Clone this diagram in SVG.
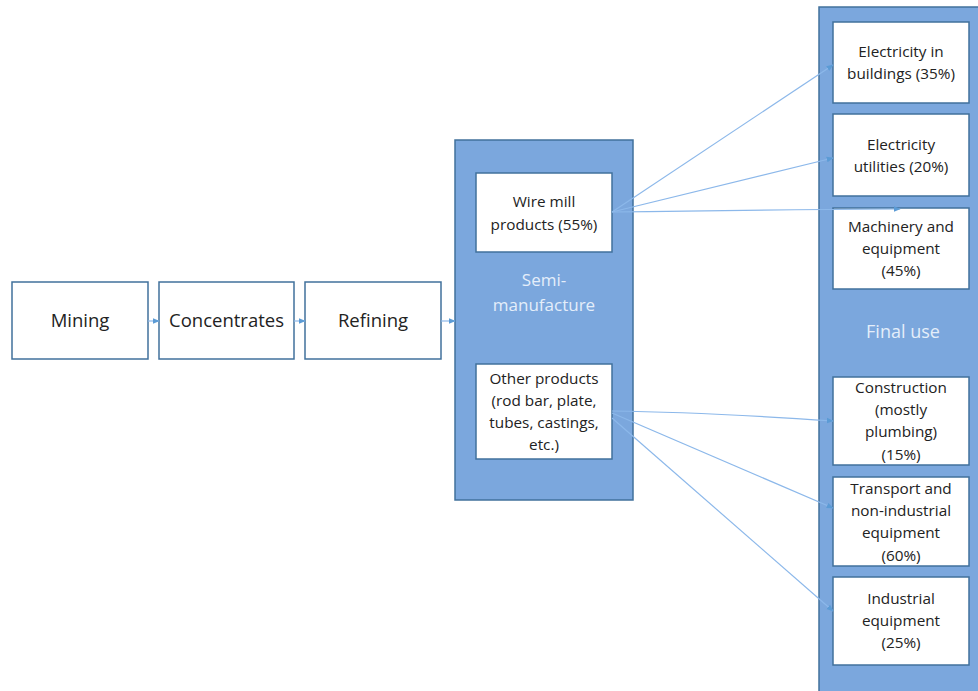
<svg xmlns="http://www.w3.org/2000/svg" width="978" height="691" viewBox="0 0 978 691">
<defs>
<marker id="ah" viewBox="0 0 10 10" refX="9" refY="5" markerWidth="7" markerHeight="7" orient="auto" markerUnits="userSpaceOnUse">
<path d="M0,1 L10,5 L0,9 z" fill="#5b9bd5"/>
</marker>
<style>
.box{fill:#fff;stroke:#41719c;stroke-width:1.5}
.grp{fill:#7ba7dd;stroke:#41719c;stroke-width:1.5}
.t{font-family:"Open Sans","Liberation Sans",sans-serif;fill:#222;text-anchor:middle}
.big{font-size:18.5px}
.sm{font-size:15.3px}
.w{font-family:"Open Sans","Liberation Sans",sans-serif;fill:#e4eefa;text-anchor:middle;font-size:17px}
.c{stroke:#8cb8ea;stroke-width:1.2;fill:none;marker-end:url(#ah)}
</style>
</defs>
<rect width="978" height="691" fill="#fff"/>
<g id="mining"><rect class="box" x="12" y="282" width="136" height="77"/><text class="t big" x="80" y="327">Mining</text></g>
<g id="concentrates"><rect class="box" x="159" y="282" width="135" height="77"/><text class="t big" x="226.5" y="327">Concentrates</text></g>
<g id="refining"><rect class="box" x="305" y="282" width="136" height="77"/><text class="t big" x="373" y="327">Refining</text></g>
<g id="semi"><rect class="grp" x="455" y="140" width="178" height="360"/><text class="w" x="544" y="286">Semi-</text><text class="w" x="544" y="311">manufacture</text></g>
<g id="wire"><rect class="box" x="476" y="173" width="136" height="79"/><text class="t sm" x="544" y="207">Wire mill</text><text class="t sm" x="544" y="230">products (55%)</text></g>
<g id="other"><rect class="box" x="476" y="364" width="136" height="95"/><text class="t sm" x="544" y="384">Other products</text><text class="t sm" x="544" y="406">(rod bar, plate,</text><text class="t sm" x="544" y="428">tubes, castings,</text><text class="t sm" x="544" y="450">etc.)</text></g>
<g id="final"><rect class="grp" x="819" y="7" width="160" height="690"/><text class="w" x="903" y="338" style="font-size:18px">Final use</text></g>
<g id="elecbuild"><rect class="box" x="833" y="22" width="136" height="81"/><text class="t sm" x="901" y="57">Electricity in</text><text class="t sm" x="901" y="79">buildings (35%)</text></g>
<g id="elecutil"><rect class="box" x="833" y="114" width="136" height="82"/><text class="t sm" x="901" y="150">Electricity</text><text class="t sm" x="901" y="172">utilities (20%)</text></g>
<g id="machinery"><rect class="box" x="833" y="208" width="136" height="81"/><text class="t sm" x="901" y="232">Machinery and</text><text class="t sm" x="901" y="254">equipment</text><text class="t sm" x="901" y="276">(45%)</text></g>
<g id="construction"><rect class="box" x="833" y="377" width="136" height="88"/><text class="t sm" x="901" y="393">Construction</text><text class="t sm" x="901" y="415">(mostly</text><text class="t sm" x="901" y="437">plumbing)</text><text class="t sm" x="901" y="460">(15%)</text></g>
<g id="transport"><rect class="box" x="833" y="477" width="136" height="89"/><text class="t sm" x="901" y="494">Transport and</text><text class="t sm" x="901" y="516">non-industrial</text><text class="t sm" x="901" y="538">equipment</text><text class="t sm" x="901" y="561">(60%)</text></g>
<g id="industrial"><rect class="box" x="833" y="577" width="136" height="88"/><text class="t sm" x="901" y="604">Industrial</text><text class="t sm" x="901" y="626">equipment</text><text class="t sm" x="901" y="648">(25%)</text></g>
<g id="connectors">
<line class="c" x1="148" y1="321" x2="159" y2="321"/>
<line class="c" x1="294" y1="321" x2="305" y2="321"/>
<line class="c" x1="441" y1="321" x2="455" y2="321"/>
<line class="c" x1="612" y1="212" x2="833" y2="65"/>
<line class="c" x1="612" y1="212" x2="833" y2="158"/>
<path class="c" d="M612,212 Q740,210 900,209"/>
<path class="c" d="M612,411 Q700,412 833,421"/>
<line class="c" x1="612" y1="413" x2="833" y2="508"/>
<line class="c" x1="612" y1="418" x2="833" y2="611"/>
</g>
</svg>
